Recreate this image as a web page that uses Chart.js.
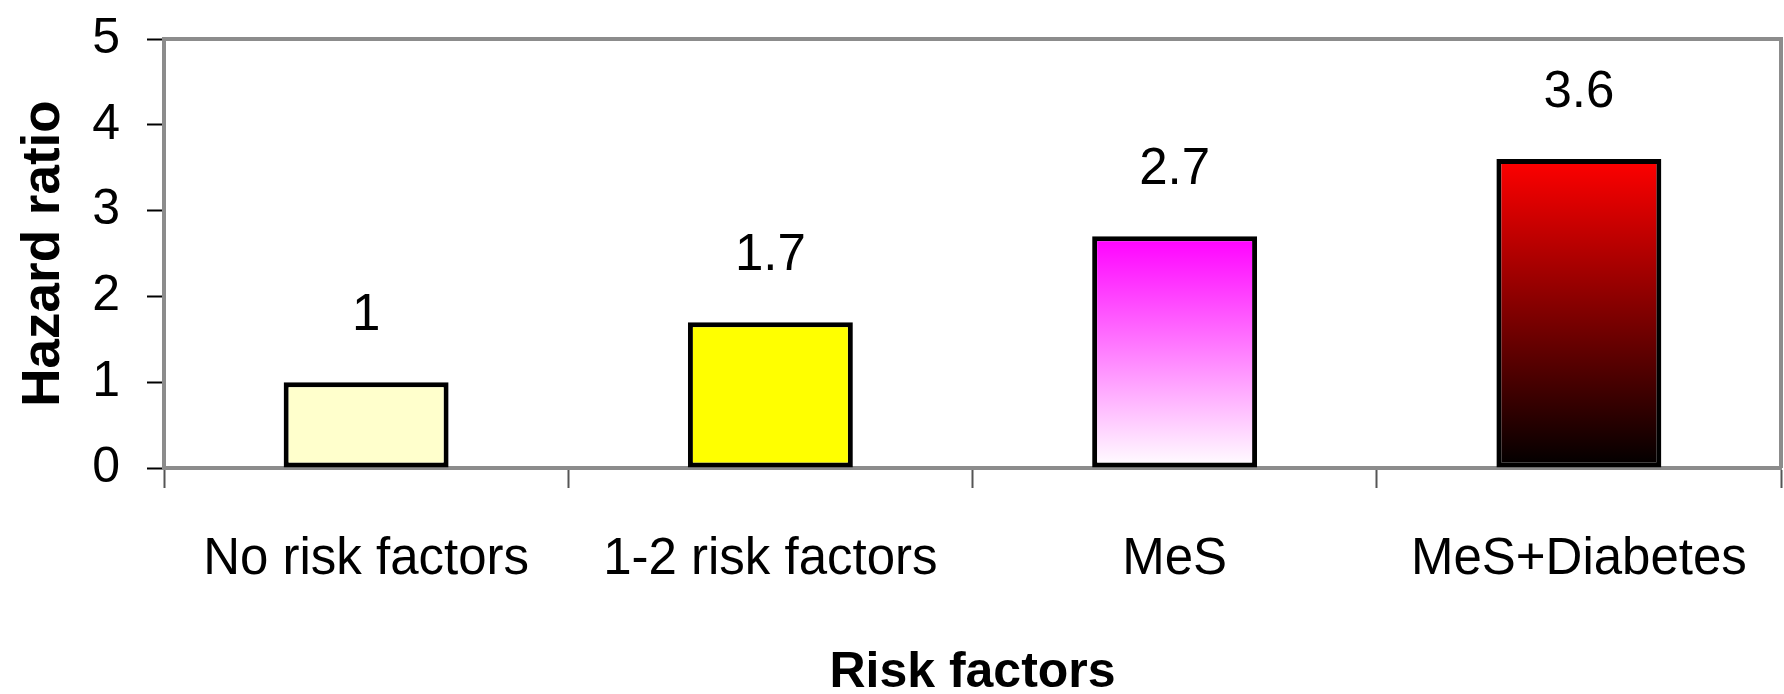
<!DOCTYPE html>
<html>
<head>
<meta charset="utf-8">
<script src="https://cdn.jsdelivr.net/npm/chart.js@4"></script>
<style>
  html, body { margin: 0; padding: 0; background: #fff; }
  #wrap { width: 1784px; height: 694px; }
</style>
</head>
<body>
<div id="wrap"><canvas id="hrChart"></canvas></div>
<script>
// Chart data
const riskGroups = ['No risk factors', '1-2 risk factors', 'MeS', 'MeS+Diabetes'];
const hazardRatios = [1, 1.7, 2.7, 3.6];
const valueLabels = ['1', '1.7', '2.7', '3.6'];
const yTicks = [0, 1, 2, 3, 4, 5];

// Bar fills: a plain colour, or [top, bottom] for a vertical gradient
const barFills = ['#FFFFCC', '#FFFF00', ['#FF00FF', '#FFFFFF'], ['#FF0000', '#000000']];

const font = 'Liberation Sans, Arial, sans-serif';

function barFill(ctx) {
    const fill = barFills[ctx.dataIndex];
    if (!Array.isArray(fill)) return fill;
    const chart = ctx.chart;
    const y = chart.scales.y;
    if (!y || !chart.chartArea) return fill[0];
    const top = y.getPixelForValue(hazardRatios[ctx.dataIndex]);
    const bottom = y.getPixelForValue(0);
    const g = chart.ctx.createLinearGradient(0, top, 0, bottom);
    g.addColorStop(0, fill[0]);
    g.addColorStop(1, fill[1]);
    return g;
}

// Gray frame round the plot area (top and right sides)
const framePlugin = {
    id: 'frame',
    beforeDatasetsDraw(chart) {
        const { ctx, chartArea: a } = chart;
        ctx.save();
        ctx.strokeStyle = '#8c8c8c';
        ctx.lineWidth = 4;
        ctx.beginPath();
        ctx.moveTo(a.left, a.top);
        ctx.lineTo(a.right, a.top);
        ctx.lineTo(a.right, a.bottom);
        ctx.stroke();
        ctx.restore();
    }
};

// Value labels above the bars
const valuePlugin = {
    id: 'values',
    afterDatasetsDraw(chart) {
        const { ctx } = chart;
        const meta = chart.getDatasetMeta(0);
        ctx.save();
        ctx.fillStyle = '#000';
        ctx.font = '51px ' + font;
        ctx.textAlign = 'center';
        ctx.textBaseline = 'middle';
        meta.data.forEach((bar, i) => {
            ctx.fillText(valueLabels[i], bar.x, bar.y - 66);
        });
        ctx.restore();
    }
};

new Chart(document.getElementById('hrChart'), {
    type: 'bar',
    data: {
        labels: riskGroups,
        datasets: [{
            data: hazardRatios,
            backgroundColor: barFill,
            borderColor: '#000',
            borderWidth: 5,
            borderSkipped: false,
            categoryPercentage: 1,
            barPercentage: 0.408
        }]
    },
    options: {
        responsive: true,
        maintainAspectRatio: false,
        animation: false,
        layout: { padding: { top: 39, right: 3, left: 0, bottom: 0 } },
        plugins: {
            legend: { display: false },
            tooltip: { enabled: false }
        },
        scales: {
            x: {
                offset: true,
                afterFit: axis => {
                    axis.height = 226;
                    axis.paddingLeft = 0;
                    axis.paddingRight = 0;
                },
                grid: {
                    offset: true,
                    drawOnChartArea: false,
                    drawTicks: true,
                    tickLength: 20,
                    tickColor: '#555',
                    tickWidth: 2
                },
                border: { color: '#8c8c8c', width: 4 },
                ticks: {
                    color: '#000',
                    font: { family: font, size: 51 },
                    padding: 41,
                    maxRotation: 0
                },
                title: {
                    display: true,
                    text: 'Risk factors',
                    color: '#000',
                    font: { family: font, size: 50, weight: 'bold', lineHeight: 0.85 },
                    padding: { top: 0, bottom: 0 }
                }
            },
            y: {
                min: 0,
                max: 5,
                afterBuildTicks: axis => { axis.ticks = yTicks.map(v => ({ value: v })); },
                afterFit: axis => {
                    axis.width = 164;
                    axis.paddingTop = 0;
                    axis.paddingBottom = 0;
                },
                grid: {
                    drawOnChartArea: false,
                    drawTicks: true,
                    tickLength: 17,
                    tickColor: '#000',
                    tickWidth: 2
                },
                border: { color: '#8c8c8c', width: 4 },
                ticks: {
                    color: '#000',
                    font: { family: font, size: 50 },
                    padding: 27
                },
                title: {
                    display: true,
                    text: 'Hazard ratio',
                    color: '#000',
                    font: { family: font, size: 53, weight: 'bold', lineHeight: 1 },
                    padding: { top: 18, bottom: 0 }
                }
            }
        }
    },
    plugins: [framePlugin, valuePlugin]
});
</script>
</body>
</html>
